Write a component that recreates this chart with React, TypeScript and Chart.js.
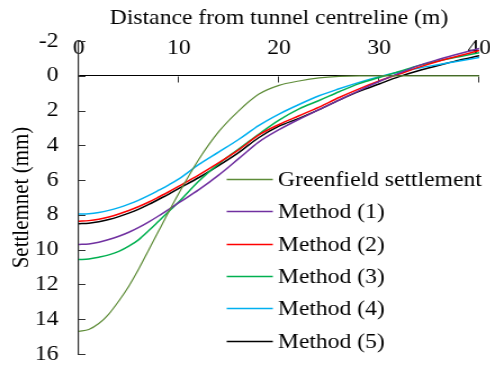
import React, { useEffect, useRef } from 'react';
import { Chart, registerables } from 'chart.js';

Chart.register(...registerables);

// ---- data ----
const xValues = [0, 1, 2, 3, 4, 5, 6, 7, 8, 9, 10, 12, 14, 16, 18, 20, 22, 24, 26, 28, 30, 32, 34, 36, 38, 40];
const greenfield = [14.7, 14.59, 14.25, 13.7, 12.95, 12.1, 11.1, 10.0, 8.9, 7.8, 6.75, 4.8, 3.2, 2.0, 1.05, 0.55, 0.3, 0.12, 0.03, 0, 0, 0, 0, 0, 0, 0];
const method1 = [9.7, 9.67, 9.57, 9.42, 9.23, 9.0, 8.72, 8.4, 8.05, 7.68, 7.3, 6.55, 5.7, 4.75, 3.8, 3.1, 2.5, 1.95, 1.4, 0.85, 0.33, -0.15, -0.6, -0.95, -1.27, -1.57];
const method2 = [8.36, 8.33, 8.25, 8.12, 7.95, 7.75, 7.52, 7.26, 6.97, 6.67, 6.35, 5.7, 5.0, 4.25, 3.4, 2.8, 2.3, 1.8, 1.25, 0.75, 0.3, -0.1, -0.5, -0.85, -1.15, -1.45];
const method3 = [10.57, 10.53, 10.43, 10.3, 10.1, 9.8, 9.42, 8.9, 8.35, 7.8, 7.25, 6.05, 5.05, 4.2, 3.35, 2.55, 1.9, 1.42, 0.92, 0.45, 0.1, -0.25, -0.6, -0.87, -1.1, -1.32];
const method4 = [7.95, 7.93, 7.86, 7.74, 7.58, 7.38, 7.15, 6.88, 6.58, 6.27, 5.93, 5.1, 4.38, 3.65, 2.85, 2.2, 1.65, 1.15, 0.75, 0.38, 0.05, -0.22, -0.45, -0.65, -0.85, -1.05];
const method5 = [8.51, 8.48, 8.4, 8.27, 8.1, 7.9, 7.67, 7.4, 7.1, 6.8, 6.48, 5.85, 5.15, 4.4, 3.55, 2.9, 2.45, 1.95, 1.4, 0.9, 0.47, 0.05, -0.3, -0.6, -0.9, -1.15];

const seriesLabels = ['Greenfield settlement', 'Method (1)', 'Method (2)', 'Method (3)', 'Method (4)', 'Method (5)'];
const seriesValues = [greenfield, method1, method2, method3, method4, method5];
const seriesColors = ['#5E8C38', '#7030A0', '#FF0000', '#00B050', '#00B0F0', '#000000'];
const seriesWidths = [1.2, 1.5, 1.5, 1.5, 1.5, 1.5];

const xTickValues = [0, 10, 20, 30, 40];
const yTickValues = [-2, 0, 2, 4, 6, 8, 10, 12, 14, 16];

const xTitle = 'Distance from tunnel centreline (m)';
const yTitle = 'Settlemnet (mm)';

const FONT = "'Liberation Serif', 'Times New Roman', serif";
const AXIS_COLOR = '#333333';

// the reference picture is stretched horizontally; draw narrower and stretch
const STRETCH = 1.125;
const OUT_W = 490;
const OUT_H = 368;
const CANVAS_W = Math.round(OUT_W / STRETCH);

// ticks drawn inward / on the zero line
const tickMarksPlugin = {
  id: 'tickMarks',
  beforeDatasetsDraw(chart: any) {
    const { ctx, scales } = chart;
    const xs = scales.x;
    const ys = scales.y;
    ctx.save();
    ctx.strokeStyle = AXIS_COLOR;
    ctx.lineWidth = 1;
    const left = xs.getPixelForValue(0);
    yTickValues.forEach((v) => {
      const py = Math.round(ys.getPixelForValue(v)) + 0.5;
      ctx.beginPath();
      ctx.moveTo(left, py);
      ctx.lineTo(left + 6, py);
      ctx.stroke();
    });
    const y0 = Math.round(ys.getPixelForValue(0)) + 0.5;
    xTickValues.forEach((v) => {
      const px = Math.round(xs.getPixelForValue(v)) - 0.5;
      ctx.beginPath();
      ctx.moveTo(px, y0);
      ctx.lineTo(px, y0 + 6);
      ctx.stroke();
    });
    ctx.restore();
  },
};

// legend drawn inside the plot area
const insideLegendPlugin = {
  id: 'insideLegend',
  afterDraw(chart: any) {
    const { ctx, chartArea } = chart;
    const lineX0 = chartArea.left + 131.5;
    const lineX1 = lineX0 + 41;
    const textX = lineX1 + 4.5;
    const rowY0 = chartArea.top + 138;
    const rowGap = 32.3;
    ctx.save();
    ctx.font = `21px ${FONT}`;
    ctx.textBaseline = 'middle';
    ctx.textAlign = 'left';
    chart.data.datasets.forEach((ds: any, i: number) => {
      const y = Math.round(rowY0 + i * rowGap) + 0.5;
      ctx.strokeStyle = ds.borderColor;
      ctx.lineWidth = 1.5;
      ctx.beginPath();
      ctx.moveTo(lineX0, y);
      ctx.lineTo(lineX1, y);
      ctx.stroke();
      ctx.fillStyle = '#000000';
      ctx.fillText(ds.label, textX, y + 1);
    });
    ctx.restore();
  },
};

export default function App() {
  const canvasRef = useRef<HTMLCanvasElement | null>(null);

  useEffect(() => {
    if (!canvasRef.current) return;
    const datasets = seriesLabels.map((label, i) => ({
      label,
      data: xValues.map((x, j) => ({ x, y: seriesValues[i][j] })),
      borderColor: seriesColors[i],
      backgroundColor: seriesColors[i],
      borderWidth: seriesWidths[i],
      pointRadius: 0,
      fill: false,
      cubicInterpolationMode: 'monotone' as const,
    }));

    const chart = new Chart(canvasRef.current, {
      type: 'line',
      data: { datasets },
      options: {
        animation: false,
        responsive: false,
        maintainAspectRatio: false,
        devicePixelRatio: 1,
        layout: { padding: { left: 0, right: 10, top: 0, bottom: 14 } },
        plugins: {
          legend: { display: false },
          tooltip: { enabled: false },
        },
        scales: {
          x: {
            type: 'linear',
            position: 'top',
            min: 0,
            max: 40,
            afterFit: (scale: any) => {
              scale.height = 41;
            },
            afterBuildTicks: (scale: any) => {
              scale.ticks = xTickValues.map((v) => ({ value: v }));
            },
            grid: { display: false, drawTicks: false },
            border: { display: false },
            ticks: {
              mirror: true,
              padding: -5,
              color: '#000000',
              font: { family: FONT, size: 21 },
              maxRotation: 0,
              autoSkip: false,
            },
            title: {
              display: true,
              text: xTitle,
              color: '#000000',
              font: { family: FONT, size: 21 },
              padding: { top: 6, bottom: 0 },
            },
          },
          y: {
            type: 'linear',
            reverse: true,
            min: -2,
            max: 16,
            afterFit: (scale: any) => {
              scale.width = 70;
            },
            afterBuildTicks: (scale: any) => {
              scale.ticks = yTickValues.map((v) => ({ value: v }));
            },
            grid: {
              drawTicks: true,
              tickLength: 18,
              tickColor: 'rgba(0,0,0,0)',
              color: (ctx: any) => (ctx.tick && ctx.tick.value === 0 ? '#000000' : 'rgba(0,0,0,0)'),
              lineWidth: 1,
            },
            border: { display: true, color: AXIS_COLOR, width: 1.2 },
            ticks: {
              padding: 0,
              color: '#000000',
              font: { family: FONT, size: 21 },
            },
            title: {
              display: true,
              text: yTitle,
              color: '#000000',
              font: { family: FONT, size: 21 },
              padding: { top: 7, bottom: 0 },
            },
          },
        },
      },
      plugins: [tickMarksPlugin, insideLegendPlugin],
    });

    return () => {
      chart.destroy();
    };
  }, []);

  return (
    <div
      style={{
        position: 'absolute',
        left: 0,
        top: 0,
        width: OUT_W,
        height: OUT_H,
        overflow: 'hidden',
        background: '#ffffff',
      }}
    >
      <div style={{ width: CANVAS_W, height: OUT_H, transform: `scaleX(${STRETCH})`, transformOrigin: '0 0' }}>
        <canvas
          ref={canvasRef}
          width={CANVAS_W}
          height={OUT_H}
          style={{ display: 'block', width: CANVAS_W, height: OUT_H }}
        />
      </div>
    </div>
  );
}
